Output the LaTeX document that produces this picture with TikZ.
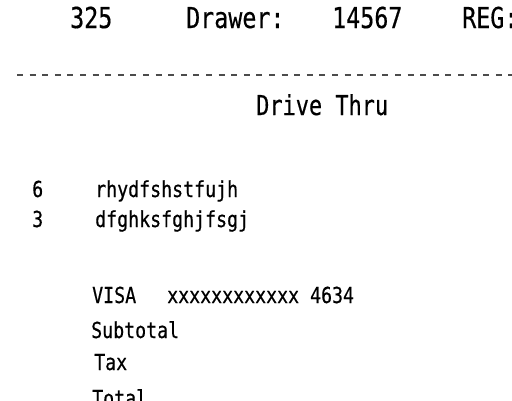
\documentclass[tikz,border=0pt]{standalone}
\usepackage{graphicx}
\usepackage{fontspec}
\newfontfamily\rmono[FakeBold=0.5]{DejaVu Sans Mono}
\newcommand\sqzh[1]{\scalebox{0.81}[1]{#1}}
\newcommand\sqzb[1]{\scalebox{0.83}[1]{#1}}
\newcommand\sqzd[1]{\scalebox{0.80}[1]{#1}}
\tikzset{
  hdr/.style={anchor=base west, inner sep=0pt, font=\rmono\fontsize{28.8}{30}\selectfont},
  ttl/.style={anchor=base west, inner sep=0pt, font=\rmono\fontsize{27.4}{29}\selectfont},
  bdy/.style={anchor=base west, inner sep=0pt, font=\rmono\fontsize{22}{24}\selectfont},
  dashline/.style={draw=black!70, line width=2pt, dash pattern=on 6pt off 6.6pt},
}
\begin{document}
\begin{tikzpicture}[x=1pt,y=-1pt]
\useasboundingbox[fill=white] (0,0) rectangle (512,400);
\clip (0,0) rectangle (512,400);
\node[hdr] (num) at (70,28) {\sqzh{325}};
\node[hdr] (drw) at (186,28) {\sqzh{Drawer:}};
\node[hdr] (drn) at (332,28) {\sqzh{14567}};
\node[hdr] (reg) at (462,28) {\sqzh{REG:}};
\coordinate (dl) at (17,75);
\coordinate (dr) at (515,75);
\draw[dashline] (dl) -- (dr);
\node[ttl] (dt) at (256,115) {\sqzd{Drive Thru}};
\node[bdy] (q1) at (32,197) {\sqzb{6}};
\node[bdy] (i1) at (95,197) {\sqzb{rhydfshstfujh}};
\node[bdy] (q2) at (32,227) {\sqzb{3}};
\node[bdy] (i2) at (95,227) {\sqzb{dfghksfghjfsgj}};
\node[bdy] (visa) at (92,303) {\sqzb{VISA}};
\node[bdy] (card) at (167,303) {\sqzb{xxxxxxxxxxxx 4634}};
\node[bdy] (sub) at (91,338) {\sqzb{Subtotal}};
\node[bdy] (tax) at (94,370) {\sqzb{Tax}};
\node[bdy] (tot) at (92,406) {\sqzb{Total}};
\end{tikzpicture}
\end{document}
